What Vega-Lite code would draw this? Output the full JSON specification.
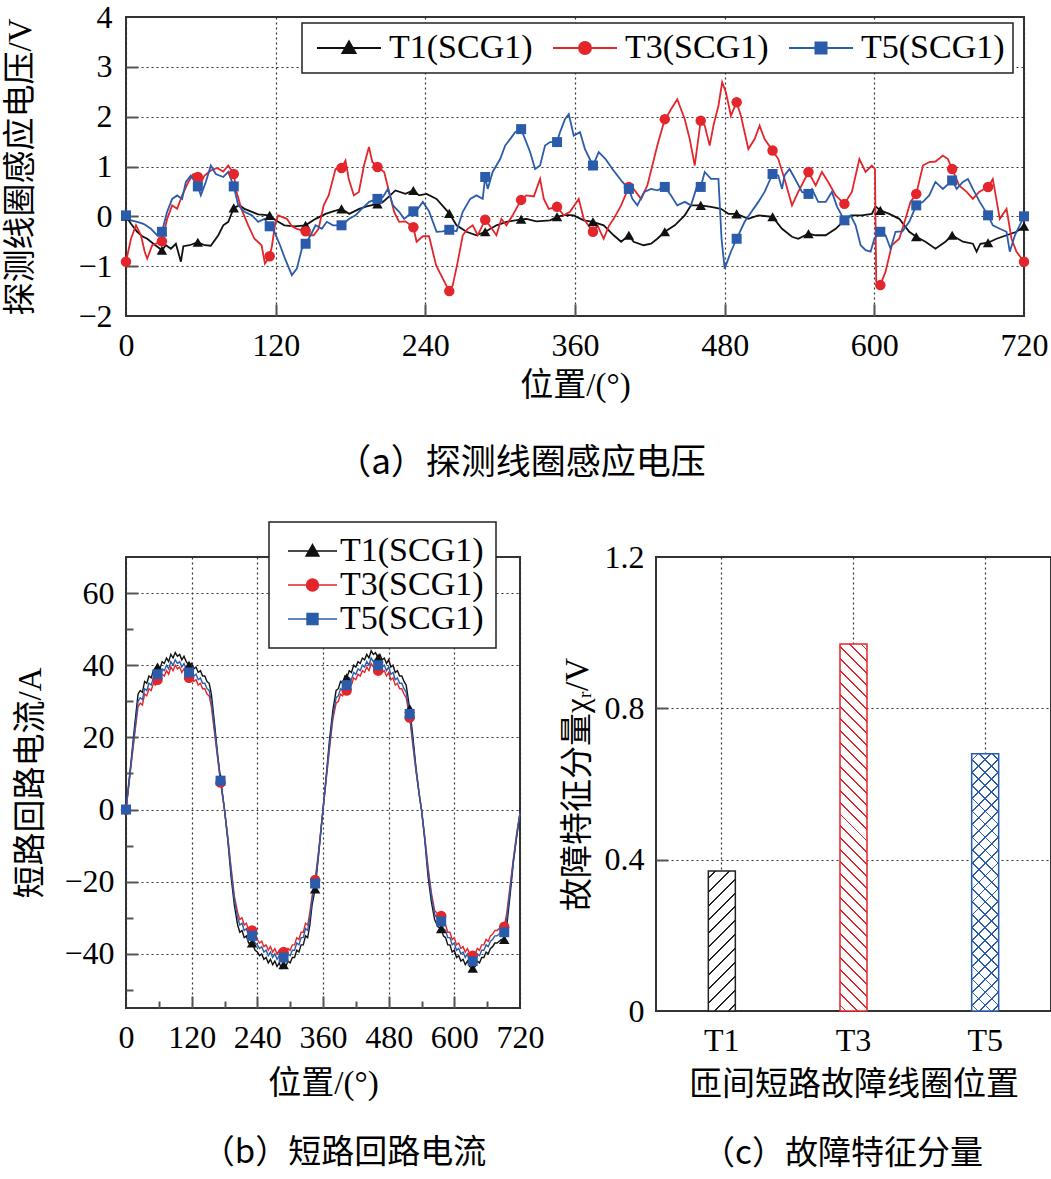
{
  "$schema": "https://vega.github.io/schema/vega-lite/v6.json",
  "background": "white",
  "padding": {"left": 3, "top": 0, "right": 0, "bottom": 0},
  "spacing": 39,
  "resolve": {"scale": {"color": "independent"}, "legend": {"color": "independent"}},
  "config": {
    "view": {"stroke": "#333", "strokeWidth": 2},
    "axis": {"domain": false, "labelFont": "Liberation Serif", "labelFontSize": 32, "labelColor": "#000", "titleFont": "Liberation Serif, Noto Sans CJK SC", "titleFontSize": 33, "titleFontWeight": "normal", "titleColor": "#000", "gridColor": "#333", "gridDash": [2, 3], "gridWidth": 1.2, "gridOpacity": 1, "tickColor": "#555", "tickWidth": 2},
    "title": {"font": "Noto Sans CJK SC", "fontSize": 35, "fontWeight": "normal", "color": "#000", "anchor": "middle"},
    "legend": {"labelFont": "Liberation Serif", "labelFontSize": 34, "labelColor": "#000", "strokeColor": "#222", "fillColor": "#fff"}
  },
  "datasets": {
    "a": [
      {"s":"T1","x":0,"y":0,"m":1},{"s":"T1","x":4,"y":-0.15},{"s":"T1","x":9,"y":-0.31},{"s":"T1","x":13,"y":-0.4},{"s":"T1","x":17,"y":-0.45},{"s":"T1","x":22,"y":-0.55},{"s":"T1","x":28.8,"y":-0.68,"m":1},{"s":"T1","x":32,"y":-0.58},{"s":"T1","x":36,"y":-0.65},{"s":"T1","x":40,"y":-0.55},{"s":"T1","x":44,"y":-0.91},{"s":"T1","x":46,"y":-0.6},{"s":"T1","x":51,"y":-0.58},{"s":"T1","x":57.6,"y":-0.52,"m":1},{"s":"T1","x":63,"y":-0.58},{"s":"T1","x":68,"y":-0.59},{"s":"T1","x":74,"y":-0.38},{"s":"T1","x":78,"y":-0.18},{"s":"T1","x":82,"y":-0.11},{"s":"T1","x":86.4,"y":0.17,"m":1},{"s":"T1","x":91,"y":0.22},{"s":"T1","x":95,"y":0.15},{"s":"T1","x":101,"y":0.09},{"s":"T1","x":106,"y":0.04},{"s":"T1","x":115.2,"y":0.02,"m":1},{"s":"T1","x":120,"y":-0.08},{"s":"T1","x":127,"y":-0.18},{"s":"T1","x":135,"y":-0.2},{"s":"T1","x":144,"y":-0.18,"m":1},{"s":"T1","x":152,"y":-0.05},{"s":"T1","x":160,"y":0.05},{"s":"T1","x":166,"y":0.1},{"s":"T1","x":172.8,"y":0.15,"m":1},{"s":"T1","x":179,"y":0.05},{"s":"T1","x":187,"y":0.15},{"s":"T1","x":193,"y":0.2},{"s":"T1","x":201.6,"y":0.25,"m":1},{"s":"T1","x":206,"y":0.29},{"s":"T1","x":211,"y":0.4},{"s":"T1","x":216,"y":0.52},{"s":"T1","x":224,"y":0.45},{"s":"T1","x":230.4,"y":0.52,"m":1},{"s":"T1","x":235,"y":0.42},{"s":"T1","x":241,"y":0.45},{"s":"T1","x":249,"y":0.35},{"s":"T1","x":259.2,"y":0.06,"m":1},{"s":"T1","x":265,"y":-0.18},{"s":"T1","x":273,"y":-0.31},{"s":"T1","x":281,"y":-0.38},{"s":"T1","x":288,"y":-0.31,"m":1},{"s":"T1","x":297,"y":-0.18},{"s":"T1","x":305,"y":-0.11},{"s":"T1","x":316.8,"y":-0.06,"m":1},{"s":"T1","x":321,"y":-0.05},{"s":"T1","x":329,"y":-0.1},{"s":"T1","x":340,"y":-0.08},{"s":"T1","x":345.6,"y":-0.01,"m":1},{"s":"T1","x":352,"y":0.03},{"s":"T1","x":359,"y":0.02},{"s":"T1","x":367,"y":-0.08},{"s":"T1","x":374.4,"y":-0.11,"m":1},{"s":"T1","x":383,"y":-0.18},{"s":"T1","x":391,"y":-0.38},{"s":"T1","x":397,"y":-0.51},{"s":"T1","x":403.2,"y":-0.38,"m":1},{"s":"T1","x":407,"y":-0.51},{"s":"T1","x":415,"y":-0.58},{"s":"T1","x":421,"y":-0.55},{"s":"T1","x":426,"y":-0.45},{"s":"T1","x":432,"y":-0.31,"m":1},{"s":"T1","x":440,"y":-0.18},{"s":"T1","x":448,"y":0.02},{"s":"T1","x":453,"y":0.22},{"s":"T1","x":460.8,"y":0.22,"m":1},{"s":"T1","x":469,"y":0.19},{"s":"T1","x":477,"y":0.15},{"s":"T1","x":483,"y":0.05},{"s":"T1","x":489.6,"y":0.05,"m":1},{"s":"T1","x":499,"y":-0.05},{"s":"T1","x":507,"y":0.02},{"s":"T1","x":518.4,"y":-0.01,"m":1},{"s":"T1","x":526,"y":-0.25},{"s":"T1","x":534,"y":-0.41},{"s":"T1","x":539,"y":-0.45},{"s":"T1","x":547.2,"y":-0.35,"m":1},{"s":"T1","x":553,"y":-0.38},{"s":"T1","x":561,"y":-0.38},{"s":"T1","x":569,"y":-0.25},{"s":"T1","x":576,"y":-0.08,"m":1},{"s":"T1","x":582,"y":0.02},{"s":"T1","x":590,"y":0.02},{"s":"T1","x":598,"y":0.05},{"s":"T1","x":601,"y":0.2},{"s":"T1","x":604.8,"y":0.12,"m":1},{"s":"T1","x":612,"y":0.05},{"s":"T1","x":620,"y":-0.05},{"s":"T1","x":628,"y":-0.31},{"s":"T1","x":633.6,"y":-0.41,"m":1},{"s":"T1","x":641,"y":-0.51},{"s":"T1","x":649,"y":-0.65},{"s":"T1","x":657,"y":-0.51},{"s":"T1","x":662.4,"y":-0.38,"m":1},{"s":"T1","x":671,"y":-0.51},{"s":"T1","x":679,"y":-0.55},{"s":"T1","x":682,"y":-0.71},{"s":"T1","x":685,"y":-0.55},{"s":"T1","x":691.2,"y":-0.53,"m":1},{"s":"T1","x":698,"y":-0.45},{"s":"T1","x":706,"y":-0.38},{"s":"T1","x":714,"y":-0.31},{"s":"T1","x":720,"y":-0.2,"m":1},
      {"s":"T3","x":0,"y":-0.91,"m":1},{"s":"T3","x":4,"y":-0.45},{"s":"T3","x":8,"y":-0.18},{"s":"T3","x":12,"y":-0.38},{"s":"T3","x":15,"y":-0.71},{"s":"T3","x":17,"y":-0.85},{"s":"T3","x":21,"y":-0.58},{"s":"T3","x":28.8,"y":-0.5,"m":1},{"s":"T3","x":33,"y":-0.05},{"s":"T3","x":37,"y":0.22},{"s":"T3","x":41,"y":0.15},{"s":"T3","x":45,"y":0.42},{"s":"T3","x":50,"y":0.69},{"s":"T3","x":54,"y":0.85},{"s":"T3","x":57.6,"y":0.79,"m":1},{"s":"T3","x":59,"y":0.62},{"s":"T3","x":63,"y":0.82},{"s":"T3","x":68,"y":0.92},{"s":"T3","x":73,"y":0.97},{"s":"T3","x":78,"y":0.9},{"s":"T3","x":82,"y":1.02},{"s":"T3","x":86.4,"y":0.85,"m":1},{"s":"T3","x":88.5,"y":0.5},{"s":"T3","x":92.5,"y":0.15},{"s":"T3","x":98,"y":-0.18},{"s":"T3","x":103,"y":-0.45},{"s":"T3","x":108.7,"y":-0.58},{"s":"T3","x":111.4,"y":-0.95},{"s":"T3","x":115.2,"y":-0.8,"m":1},{"s":"T3","x":117,"y":-0.6},{"s":"T3","x":119.4,"y":-0.18},{"s":"T3","x":122,"y":0.02},{"s":"T3","x":129,"y":-0.05},{"s":"T3","x":133,"y":-0.2},{"s":"T3","x":137,"y":-0.25},{"s":"T3","x":144,"y":-0.3,"m":1},{"s":"T3","x":146.4,"y":-0.38},{"s":"T3","x":150.4,"y":-0.38},{"s":"T3","x":154.4,"y":-0.25},{"s":"T3","x":158.5,"y":0.22},{"s":"T3","x":162.5,"y":0.42},{"s":"T3","x":168,"y":0.95},{"s":"T3","x":172.8,"y":0.97,"m":1},{"s":"T3","x":176,"y":1.12},{"s":"T3","x":178.6,"y":0.75},{"s":"T3","x":182.7,"y":0.42},{"s":"T3","x":186.7,"y":0.49},{"s":"T3","x":190.8,"y":1.02},{"s":"T3","x":194.8,"y":1.39},{"s":"T3","x":197.5,"y":1.09},{"s":"T3","x":201.6,"y":0.99,"m":1},{"s":"T3","x":207,"y":0.89},{"s":"T3","x":211,"y":0.49},{"s":"T3","x":215,"y":0.09},{"s":"T3","x":219,"y":-0.11},{"s":"T3","x":224,"y":-0.1},{"s":"T3","x":230.4,"y":-0.22,"m":1},{"s":"T3","x":233,"y":-0.51},{"s":"T3","x":238,"y":-0.4},{"s":"T3","x":243,"y":-0.4},{"s":"T3","x":248.6,"y":-0.98},{"s":"T3","x":254,"y":-1.25},{"s":"T3","x":259.2,"y":-1.5,"m":1},{"s":"T3","x":262,"y":-1.38},{"s":"T3","x":266,"y":-0.91},{"s":"T3","x":270,"y":-0.38},{"s":"T3","x":274,"y":-0.25},{"s":"T3","x":278,"y":-0.18},{"s":"T3","x":282,"y":-0.38},{"s":"T3","x":288,"y":-0.07,"m":1},{"s":"T3","x":292,"y":-0.2},{"s":"T3","x":297,"y":-0.38},{"s":"T3","x":301,"y":-0.05},{"s":"T3","x":305,"y":-0.18},{"s":"T3","x":310,"y":0.02},{"s":"T3","x":316.8,"y":0.33,"m":1},{"s":"T3","x":321,"y":0.42},{"s":"T3","x":327,"y":0.4},{"s":"T3","x":332,"y":0.75},{"s":"T3","x":335,"y":0.35},{"s":"T3","x":339,"y":0.15},{"s":"T3","x":345.6,"y":0.19,"m":1},{"s":"T3","x":351,"y":0.02},{"s":"T3","x":356,"y":0.09},{"s":"T3","x":363,"y":0.35},{"s":"T3","x":367,"y":-0.05},{"s":"T3","x":374.4,"y":-0.31,"m":1},{"s":"T3","x":378,"y":-0.18},{"s":"T3","x":383,"y":-0.45},{"s":"T3","x":387,"y":-0.2},{"s":"T3","x":391,"y":-0.05},{"s":"T3","x":397,"y":0.22},{"s":"T3","x":403.2,"y":0.59,"m":1},{"s":"T3","x":407,"y":0.55},{"s":"T3","x":413,"y":0.35},{"s":"T3","x":418,"y":0.62},{"s":"T3","x":422,"y":1.02},{"s":"T3","x":426,"y":1.42},{"s":"T3","x":432,"y":1.95,"m":1},{"s":"T3","x":434,"y":2.02},{"s":"T3","x":437,"y":2.15},{"s":"T3","x":442,"y":2.35},{"s":"T3","x":448,"y":1.95},{"s":"T3","x":452,"y":1.55},{"s":"T3","x":456,"y":1.02},{"s":"T3","x":460.8,"y":1.92,"m":1},{"s":"T3","x":464,"y":1.82},{"s":"T3","x":468,"y":1.42},{"s":"T3","x":471,"y":1.82},{"s":"T3","x":475,"y":2.22},{"s":"T3","x":478,"y":2.69},{"s":"T3","x":481,"y":2.49},{"s":"T3","x":485,"y":2.02},{"s":"T3","x":489.6,"y":2.29,"m":1},{"s":"T3","x":493,"y":2.02},{"s":"T3","x":499,"y":1.35},{"s":"T3","x":504,"y":1.55},{"s":"T3","x":508,"y":1.82},{"s":"T3","x":512,"y":1.55},{"s":"T3","x":518.4,"y":1.32,"m":1},{"s":"T3","x":523,"y":1.15},{"s":"T3","x":528,"y":0.75},{"s":"T3","x":534,"y":0.22},{"s":"T3","x":539,"y":0.49},{"s":"T3","x":547.2,"y":0.89,"m":1},{"s":"T3","x":553,"y":0.62},{"s":"T3","x":558,"y":0.89},{"s":"T3","x":563,"y":0.69},{"s":"T3","x":569,"y":0.42},{"s":"T3","x":576,"y":0.25,"m":1},{"s":"T3","x":582,"y":0.49},{"s":"T3","x":588,"y":1.15},{"s":"T3","x":593,"y":0.89},{"s":"T3","x":598,"y":1.02},{"s":"T3","x":600.5,"y":0.95},{"s":"T3","x":601.5,"y":-1.31},{"s":"T3","x":604.8,"y":-1.38,"m":1},{"s":"T3","x":609,"y":-1.11},{"s":"T3","x":614,"y":-0.58},{"s":"T3","x":620,"y":-0.45},{"s":"T3","x":625,"y":-0.05},{"s":"T3","x":629,"y":0.29},{"s":"T3","x":633.6,"y":0.45,"m":1},{"s":"T3","x":639,"y":1.02},{"s":"T3","x":644,"y":1.09},{"s":"T3","x":649,"y":1.1},{"s":"T3","x":655,"y":1.22},{"s":"T3","x":659,"y":1.15},{"s":"T3","x":662.4,"y":0.95,"m":1},{"s":"T3","x":668,"y":0.62},{"s":"T3","x":674,"y":0.49},{"s":"T3","x":679,"y":0.35},{"s":"T3","x":684,"y":0.49},{"s":"T3","x":691.2,"y":0.59,"m":1},{"s":"T3","x":695,"y":0.75},{"s":"T3","x":700.6,"y":-0.05},{"s":"T3","x":706,"y":0.15},{"s":"T3","x":710,"y":-0.45},{"s":"T3","x":714,"y":-0.71},{"s":"T3","x":720,"y":-0.91,"m":1},
      {"s":"T5","x":0,"y":0.02,"m":1},{"s":"T5","x":4,"y":-0.08},{"s":"T5","x":9,"y":-0.11},{"s":"T5","x":14,"y":-0.15},{"s":"T5","x":20,"y":-0.25},{"s":"T5","x":25,"y":-0.38},{"s":"T5","x":28.8,"y":-0.31,"m":1},{"s":"T5","x":33,"y":0.09},{"s":"T5","x":37,"y":0.35},{"s":"T5","x":41,"y":0.42},{"s":"T5","x":45,"y":0.35},{"s":"T5","x":48,"y":0.69},{"s":"T5","x":52,"y":0.82},{"s":"T5","x":57.6,"y":0.6,"m":1},{"s":"T5","x":60,"y":0.42},{"s":"T5","x":64,"y":0.69},{"s":"T5","x":68,"y":1.02},{"s":"T5","x":72,"y":0.85},{"s":"T5","x":78,"y":0.79},{"s":"T5","x":82,"y":0.89},{"s":"T5","x":86.4,"y":0.6,"m":1},{"s":"T5","x":90,"y":0.22},{"s":"T5","x":95,"y":0.09},{"s":"T5","x":101,"y":0.02},{"s":"T5","x":106,"y":-0.11},{"s":"T5","x":111,"y":-0.05},{"s":"T5","x":115.2,"y":-0.2,"m":1},{"s":"T5","x":119,"y":-0.31},{"s":"T5","x":123.5,"y":-0.58},{"s":"T5","x":127.5,"y":-0.85},{"s":"T5","x":133,"y":-1.18},{"s":"T5","x":137,"y":-1.05},{"s":"T5","x":141,"y":-0.65},{"s":"T5","x":144,"y":-0.55,"m":1},{"s":"T5","x":148,"y":-0.38},{"s":"T5","x":152,"y":-0.18},{"s":"T5","x":157,"y":-0.25},{"s":"T5","x":161,"y":-0.11},{"s":"T5","x":166,"y":-0.18},{"s":"T5","x":172.8,"y":-0.18,"m":1},{"s":"T5","x":179,"y":-0.05},{"s":"T5","x":184,"y":0.02},{"s":"T5","x":189,"y":0.15},{"s":"T5","x":195,"y":0.29},{"s":"T5","x":201.6,"y":0.35,"m":1},{"s":"T5","x":206,"y":0.39},{"s":"T5","x":210,"y":0.55},{"s":"T5","x":214,"y":0.22},{"s":"T5","x":219,"y":0.09},{"s":"T5","x":223,"y":-0.05},{"s":"T5","x":230.4,"y":0.1,"m":1},{"s":"T5","x":234,"y":0.15},{"s":"T5","x":238,"y":0.29},{"s":"T5","x":243,"y":0.1},{"s":"T5","x":249,"y":-0.31},{"s":"T5","x":254,"y":-0.3},{"s":"T5","x":259.2,"y":-0.27,"m":1},{"s":"T5","x":265,"y":-0.3},{"s":"T5","x":270,"y":0.09},{"s":"T5","x":276,"y":0.35},{"s":"T5","x":281,"y":0.42},{"s":"T5","x":286,"y":0.35},{"s":"T5","x":288,"y":0.79,"m":1},{"s":"T5","x":290,"y":0.55},{"s":"T5","x":294,"y":0.89},{"s":"T5","x":300,"y":1.15},{"s":"T5","x":304,"y":1.42},{"s":"T5","x":308,"y":1.55},{"s":"T5","x":312,"y":1.69},{"s":"T5","x":316.8,"y":1.75,"m":1},{"s":"T5","x":320,"y":1.55},{"s":"T5","x":324,"y":1.29},{"s":"T5","x":328,"y":0.95},{"s":"T5","x":332,"y":1.02},{"s":"T5","x":336,"y":1.42},{"s":"T5","x":340,"y":1.49},{"s":"T5","x":345.6,"y":1.49,"m":1},{"s":"T5","x":348,"y":1.69},{"s":"T5","x":352,"y":1.95},{"s":"T5","x":355,"y":2.05},{"s":"T5","x":359,"y":1.62},{"s":"T5","x":364,"y":1.69},{"s":"T5","x":368,"y":1.35},{"s":"T5","x":374.4,"y":1.02,"m":1},{"s":"T5","x":379,"y":1.29},{"s":"T5","x":384.5,"y":1.15},{"s":"T5","x":390,"y":0.95},{"s":"T5","x":394,"y":0.82},{"s":"T5","x":398,"y":0.69},{"s":"T5","x":403.2,"y":0.55,"m":1},{"s":"T5","x":406,"y":0.35},{"s":"T5","x":410,"y":0.22},{"s":"T5","x":415.5,"y":0.49},{"s":"T5","x":421,"y":0.55},{"s":"T5","x":426,"y":0.52},{"s":"T5","x":432,"y":0.59,"m":1},{"s":"T5","x":437,"y":0.42},{"s":"T5","x":442,"y":0.22},{"s":"T5","x":448,"y":0.29},{"s":"T5","x":453,"y":0.22},{"s":"T5","x":458,"y":0.62},{"s":"T5","x":460.8,"y":0.59,"m":1},{"s":"T5","x":464,"y":0.89},{"s":"T5","x":469,"y":0.75},{"s":"T5","x":475,"y":0.75},{"s":"T5","x":477.5,"y":-0.45},{"s":"T5","x":480,"y":-1.05},{"s":"T5","x":485,"y":-0.71},{"s":"T5","x":489.6,"y":-0.45,"m":1},{"s":"T5","x":496,"y":-0.11},{"s":"T5","x":501.5,"y":0.09},{"s":"T5","x":507,"y":0.29},{"s":"T5","x":512,"y":0.49},{"s":"T5","x":518.4,"y":0.85,"m":1},{"s":"T5","x":523,"y":0.82},{"s":"T5","x":526,"y":0.55},{"s":"T5","x":528,"y":0.82},{"s":"T5","x":532,"y":0.95},{"s":"T5","x":536.5,"y":0.75},{"s":"T5","x":542,"y":0.49},{"s":"T5","x":547.2,"y":0.45,"m":1},{"s":"T5","x":550,"y":0.55},{"s":"T5","x":555,"y":0.29},{"s":"T5","x":561,"y":0.29},{"s":"T5","x":566,"y":0.49},{"s":"T5","x":570,"y":0.2},{"s":"T5","x":576,"y":-0.08,"m":1},{"s":"T5","x":581,"y":0.02},{"s":"T5","x":585,"y":-0.18},{"s":"T5","x":589,"y":-0.58},{"s":"T5","x":593,"y":-0.68},{"s":"T5","x":597,"y":-0.71},{"s":"T5","x":600,"y":-0.45},{"s":"T5","x":604.8,"y":-0.31,"m":1},{"s":"T5","x":609,"y":-0.38},{"s":"T5","x":613,"y":-0.65},{"s":"T5","x":617,"y":-0.31},{"s":"T5","x":622.5,"y":-0.3},{"s":"T5","x":628,"y":-0.11},{"s":"T5","x":633.6,"y":0.22,"m":1},{"s":"T5","x":639,"y":0.29},{"s":"T5","x":644,"y":0.42},{"s":"T5","x":649,"y":0.69},{"s":"T5","x":655,"y":0.55},{"s":"T5","x":662.4,"y":0.72,"m":1},{"s":"T5","x":666,"y":0.55},{"s":"T5","x":671,"y":0.69},{"s":"T5","x":675,"y":0.75},{"s":"T5","x":679,"y":0.55},{"s":"T5","x":684.5,"y":0.29},{"s":"T5","x":691.2,"y":0.02,"m":1},{"s":"T5","x":695,"y":-0.18},{"s":"T5","x":700.6,"y":-0.25},{"s":"T5","x":706,"y":-0.31},{"s":"T5","x":708.6,"y":-0.71},{"s":"T5","x":712.7,"y":-0.38},{"s":"T5","x":720,"y":0,"m":1}
    ],
    "b": [
      {"s":"T1","x":0,"y":0,"m":1},{"s":"T1","x":8,"y":11.5},{"s":"T1","x":16,"y":23.5},{"s":"T1","x":22,"y":32},{"s":"T1","x":26,"y":33},{"s":"T1","x":30,"y":32.5},{"s":"T1","x":34,"y":35.5},{"s":"T1","x":38,"y":35},{"s":"T1","x":42,"y":37},{"s":"T1","x":46,"y":36.5},{"s":"T1","x":50,"y":38.5},{"s":"T1","x":54,"y":38},{"s":"T1","x":57.6,"y":39.5,"m":1},{"s":"T1","x":62,"y":39},{"s":"T1","x":66,"y":41},{"s":"T1","x":70,"y":40.5},{"s":"T1","x":74,"y":42},{"s":"T1","x":78,"y":41},{"s":"T1","x":82,"y":43},{"s":"T1","x":86,"y":42},{"s":"T1","x":90,"y":43.5},{"s":"T1","x":94,"y":42.5},{"s":"T1","x":98,"y":43},{"s":"T1","x":102,"y":41.5},{"s":"T1","x":106,"y":42.5},{"s":"T1","x":110,"y":41},{"s":"T1","x":115.2,"y":40,"m":1},{"s":"T1","x":120,"y":40.5},{"s":"T1","x":124,"y":39},{"s":"T1","x":128,"y":39.5},{"s":"T1","x":132,"y":38},{"s":"T1","x":136,"y":38.5},{"s":"T1","x":140,"y":37},{"s":"T1","x":144,"y":37},{"s":"T1","x":148,"y":35.5},{"s":"T1","x":152,"y":35},{"s":"T1","x":156,"y":32},{"s":"T1","x":162,"y":23.5},{"s":"T1","x":168,"y":14.5},{"s":"T1","x":172.8,"y":8.5,"m":1},{"s":"T1","x":180,"y":0},
      {"s":"T1","x":186,"y":-8.5},{"s":"T1","x":192,"y":-18.5},{"s":"T1","x":198,"y":-26.5},{"s":"T1","x":204,"y":-32},{"s":"T1","x":208,"y":-34},{"s":"T1","x":212,"y":-33.5},{"s":"T1","x":216,"y":-35.5},{"s":"T1","x":220,"y":-35},{"s":"T1","x":224,"y":-37},{"s":"T1","x":230.4,"y":-37,"m":1},{"s":"T1","x":236,"y":-39},{"s":"T1","x":240,"y":-39.5},{"s":"T1","x":244,"y":-40.5},{"s":"T1","x":248,"y":-40},{"s":"T1","x":252,"y":-41.5},{"s":"T1","x":256,"y":-41},{"s":"T1","x":260,"y":-42.5},{"s":"T1","x":264,"y":-41.5},{"s":"T1","x":268,"y":-43},{"s":"T1","x":272,"y":-42},{"s":"T1","x":276,"y":-43.5},{"s":"T1","x":280,"y":-42.5},{"s":"T1","x":284,"y":-44},{"s":"T1","x":288,"y":-43,"m":1},{"s":"T1","x":292,"y":-43.5},{"s":"T1","x":296,"y":-42},{"s":"T1","x":300,"y":-42.5},{"s":"T1","x":304,"y":-41},{"s":"T1","x":308,"y":-41},{"s":"T1","x":312,"y":-39},{"s":"T1","x":316,"y":-39.5},{"s":"T1","x":320,"y":-37.5},{"s":"T1","x":324,"y":-37.5},{"s":"T1","x":328,"y":-35},{"s":"T1","x":332,"y":-35.5},{"s":"T1","x":336,"y":-32},{"s":"T1","x":340,"y":-26.5},{"s":"T1","x":345.6,"y":-22,"m":1},{"s":"T1","x":352,"y":-12.5},{"s":"T1","x":360,"y":0},
      {"s":"T1","x":366,"y":9.5},{"s":"T1","x":372,"y":19.5},{"s":"T1","x":378,"y":27.5},{"s":"T1","x":384,"y":33},{"s":"T1","x":388,"y":33.5},{"s":"T1","x":392,"y":35.5},{"s":"T1","x":396,"y":35},{"s":"T1","x":400,"y":37},{"s":"T1","x":403.2,"y":36.5,"m":1},{"s":"T1","x":408,"y":38.5},{"s":"T1","x":412,"y":38},{"s":"T1","x":416,"y":40},{"s":"T1","x":420,"y":39.5},{"s":"T1","x":424,"y":41},{"s":"T1","x":428,"y":40.5},{"s":"T1","x":432,"y":42},{"s":"T1","x":436,"y":41.5},{"s":"T1","x":440,"y":43},{"s":"T1","x":444,"y":42},{"s":"T1","x":448,"y":44},{"s":"T1","x":452,"y":43},{"s":"T1","x":456,"y":43.5},{"s":"T1","x":460.8,"y":42,"m":1},{"s":"T1","x":464,"y":43},{"s":"T1","x":468,"y":41.5},{"s":"T1","x":472,"y":42},{"s":"T1","x":476,"y":40.5},{"s":"T1","x":480,"y":41.5},{"s":"T1","x":484,"y":39.5},{"s":"T1","x":488,"y":40},{"s":"T1","x":492,"y":38},{"s":"T1","x":496,"y":38.5},{"s":"T1","x":500,"y":37},{"s":"T1","x":504,"y":37},{"s":"T1","x":508,"y":35.5},{"s":"T1","x":512,"y":34.5},{"s":"T1","x":518.4,"y":28,"m":1},{"s":"T1","x":524,"y":20.5},{"s":"T1","x":530,"y":11.5},{"s":"T1","x":536,"y":4},{"s":"T1","x":540,"y":0},
      {"s":"T1","x":546,"y":-8.5},{"s":"T1","x":552,"y":-18.5},{"s":"T1","x":558,"y":-25.5},{"s":"T1","x":564,"y":-30.5},{"s":"T1","x":570,"y":-32.5},{"s":"T1","x":576,"y":-33,"m":1},{"s":"T1","x":580,"y":-35},{"s":"T1","x":584,"y":-35.5},{"s":"T1","x":588,"y":-37.5},{"s":"T1","x":592,"y":-37.5},{"s":"T1","x":596,"y":-39.5},{"s":"T1","x":600,"y":-39},{"s":"T1","x":604,"y":-41},{"s":"T1","x":608,"y":-40.5},{"s":"T1","x":612,"y":-42},{"s":"T1","x":616,"y":-41.5},{"s":"T1","x":620,"y":-43},{"s":"T1","x":624,"y":-42},{"s":"T1","x":628,"y":-43.5},{"s":"T1","x":633.6,"y":-44,"m":1},{"s":"T1","x":638,"y":-43.5},{"s":"T1","x":642,"y":-42},{"s":"T1","x":646,"y":-42.5},{"s":"T1","x":650,"y":-41},{"s":"T1","x":654,"y":-41},{"s":"T1","x":658,"y":-39.5},{"s":"T1","x":662,"y":-40},{"s":"T1","x":666,"y":-38.5},{"s":"T1","x":670,"y":-38},{"s":"T1","x":674,"y":-37},{"s":"T1","x":678,"y":-37},{"s":"T1","x":682,"y":-36.5},{"s":"T1","x":686,"y":-36},{"s":"T1","x":691.2,"y":-36,"m":1},{"s":"T1","x":696,"y":-32},{"s":"T1","x":702,"y":-23.5},{"s":"T1","x":708,"y":-14.5},{"s":"T1","x":714,"y":-7.5},{"s":"T1","x":720,"y":-1},
      {"s":"T3","x":0,"y":0,"m":1},{"s":"T3","x":8,"y":10.5},{"s":"T3","x":16,"y":21},{"s":"T3","x":22,"y":28.5},{"s":"T3","x":26,"y":29.5},{"s":"T3","x":30,"y":29},{"s":"T3","x":34,"y":32},{"s":"T3","x":38,"y":31.5},{"s":"T3","x":42,"y":33.5},{"s":"T3","x":46,"y":33},{"s":"T3","x":50,"y":35},{"s":"T3","x":54,"y":34.5},{"s":"T3","x":57.6,"y":36,"m":1},{"s":"T3","x":62,"y":35.5},{"s":"T3","x":66,"y":37.5},{"s":"T3","x":70,"y":37},{"s":"T3","x":74,"y":38.5},{"s":"T3","x":78,"y":37.5},{"s":"T3","x":82,"y":39.5},{"s":"T3","x":86,"y":38.5},{"s":"T3","x":90,"y":40},{"s":"T3","x":94,"y":39},{"s":"T3","x":98,"y":39.5},{"s":"T3","x":102,"y":38},{"s":"T3","x":106,"y":39},{"s":"T3","x":110,"y":37.5},{"s":"T3","x":115.2,"y":36.5,"m":1},{"s":"T3","x":120,"y":37},{"s":"T3","x":124,"y":35.5},{"s":"T3","x":128,"y":36},{"s":"T3","x":132,"y":34.5},{"s":"T3","x":136,"y":35},{"s":"T3","x":140,"y":33.5},{"s":"T3","x":144,"y":33.5},{"s":"T3","x":148,"y":32},{"s":"T3","x":152,"y":31.5},{"s":"T3","x":156,"y":28.5},{"s":"T3","x":162,"y":21},{"s":"T3","x":168,"y":13.5},{"s":"T3","x":172.8,"y":7.5,"m":1},{"s":"T3","x":180,"y":0},
      {"s":"T3","x":186,"y":-7.5},{"s":"T3","x":192,"y":-16},{"s":"T3","x":198,"y":-24},{"s":"T3","x":204,"y":-28.5},{"s":"T3","x":208,"y":-30.5},{"s":"T3","x":212,"y":-30},{"s":"T3","x":216,"y":-32},{"s":"T3","x":220,"y":-31.5},{"s":"T3","x":224,"y":-33.5},{"s":"T3","x":230.4,"y":-33.5,"m":1},{"s":"T3","x":236,"y":-35.5},{"s":"T3","x":240,"y":-36},{"s":"T3","x":244,"y":-37},{"s":"T3","x":248,"y":-36.5},{"s":"T3","x":252,"y":-38},{"s":"T3","x":256,"y":-37.5},{"s":"T3","x":260,"y":-39},{"s":"T3","x":264,"y":-38},{"s":"T3","x":268,"y":-39.5},{"s":"T3","x":272,"y":-38.5},{"s":"T3","x":276,"y":-40},{"s":"T3","x":280,"y":-39},{"s":"T3","x":284,"y":-40.5},{"s":"T3","x":288,"y":-39.5,"m":1},{"s":"T3","x":292,"y":-40},{"s":"T3","x":296,"y":-38.5},{"s":"T3","x":300,"y":-39},{"s":"T3","x":304,"y":-37.5},{"s":"T3","x":308,"y":-37.5},{"s":"T3","x":312,"y":-35.5},{"s":"T3","x":316,"y":-36},{"s":"T3","x":320,"y":-34},{"s":"T3","x":324,"y":-34},{"s":"T3","x":328,"y":-31.5},{"s":"T3","x":332,"y":-32},{"s":"T3","x":336,"y":-28.5},{"s":"T3","x":340,"y":-24},{"s":"T3","x":345.6,"y":-19.5,"m":1},{"s":"T3","x":352,"y":-11.5},{"s":"T3","x":360,"y":0},
      {"s":"T3","x":366,"y":8.5},{"s":"T3","x":372,"y":17},{"s":"T3","x":378,"y":25},{"s":"T3","x":384,"y":29.5},{"s":"T3","x":388,"y":30},{"s":"T3","x":392,"y":32},{"s":"T3","x":396,"y":31.5},{"s":"T3","x":400,"y":33.5},{"s":"T3","x":403.2,"y":33,"m":1},{"s":"T3","x":408,"y":35},{"s":"T3","x":412,"y":34.5},{"s":"T3","x":416,"y":36.5},{"s":"T3","x":420,"y":36},{"s":"T3","x":424,"y":37.5},{"s":"T3","x":428,"y":37},{"s":"T3","x":432,"y":38.5},{"s":"T3","x":436,"y":38},{"s":"T3","x":440,"y":39.5},{"s":"T3","x":444,"y":38.5},{"s":"T3","x":448,"y":40.5},{"s":"T3","x":452,"y":39.5},{"s":"T3","x":456,"y":40},{"s":"T3","x":460.8,"y":38.5,"m":1},{"s":"T3","x":464,"y":39.5},{"s":"T3","x":468,"y":38},{"s":"T3","x":472,"y":38.5},{"s":"T3","x":476,"y":37},{"s":"T3","x":480,"y":38},{"s":"T3","x":484,"y":36},{"s":"T3","x":488,"y":36.5},{"s":"T3","x":492,"y":34.5},{"s":"T3","x":496,"y":35},{"s":"T3","x":500,"y":33.5},{"s":"T3","x":504,"y":33.5},{"s":"T3","x":508,"y":32},{"s":"T3","x":512,"y":31},{"s":"T3","x":518.4,"y":25.5,"m":1},{"s":"T3","x":524,"y":18},{"s":"T3","x":530,"y":10.5},{"s":"T3","x":536,"y":4},{"s":"T3","x":540,"y":0},
      {"s":"T3","x":546,"y":-7.5},{"s":"T3","x":552,"y":-16},{"s":"T3","x":558,"y":-23},{"s":"T3","x":564,"y":-28},{"s":"T3","x":570,"y":-29},{"s":"T3","x":576,"y":-29.5,"m":1},{"s":"T3","x":580,"y":-31.5},{"s":"T3","x":584,"y":-32},{"s":"T3","x":588,"y":-34},{"s":"T3","x":592,"y":-34},{"s":"T3","x":596,"y":-36},{"s":"T3","x":600,"y":-35.5},{"s":"T3","x":604,"y":-37.5},{"s":"T3","x":608,"y":-37},{"s":"T3","x":612,"y":-38.5},{"s":"T3","x":616,"y":-38},{"s":"T3","x":620,"y":-39.5},{"s":"T3","x":624,"y":-38.5},{"s":"T3","x":628,"y":-40},{"s":"T3","x":633.6,"y":-40.5,"m":1},{"s":"T3","x":638,"y":-40},{"s":"T3","x":642,"y":-38.5},{"s":"T3","x":646,"y":-39},{"s":"T3","x":650,"y":-37.5},{"s":"T3","x":654,"y":-37.5},{"s":"T3","x":658,"y":-36},{"s":"T3","x":662,"y":-36.5},{"s":"T3","x":666,"y":-35},{"s":"T3","x":670,"y":-34.5},{"s":"T3","x":674,"y":-33.5},{"s":"T3","x":678,"y":-33.5},{"s":"T3","x":682,"y":-33},{"s":"T3","x":686,"y":-32.5},{"s":"T3","x":691.2,"y":-32.5,"m":1},{"s":"T3","x":696,"y":-28.5},{"s":"T3","x":702,"y":-21},{"s":"T3","x":708,"y":-13.5},{"s":"T3","x":714,"y":-6.5},{"s":"T3","x":720,"y":-1},
      {"s":"T5","x":0,"y":0,"m":1},{"s":"T5","x":8,"y":11},{"s":"T5","x":16,"y":22},{"s":"T5","x":22,"y":30},{"s":"T5","x":26,"y":31},{"s":"T5","x":30,"y":30.5},{"s":"T5","x":34,"y":33.5},{"s":"T5","x":38,"y":33},{"s":"T5","x":42,"y":35},{"s":"T5","x":46,"y":34.5},{"s":"T5","x":50,"y":36.5},{"s":"T5","x":54,"y":36},{"s":"T5","x":57.6,"y":37.5,"m":1},{"s":"T5","x":62,"y":37},{"s":"T5","x":66,"y":39},{"s":"T5","x":70,"y":38.5},{"s":"T5","x":74,"y":40},{"s":"T5","x":78,"y":39},{"s":"T5","x":82,"y":41},{"s":"T5","x":86,"y":40},{"s":"T5","x":90,"y":41.5},{"s":"T5","x":94,"y":40.5},{"s":"T5","x":98,"y":41},{"s":"T5","x":102,"y":39.5},{"s":"T5","x":106,"y":40.5},{"s":"T5","x":110,"y":39},{"s":"T5","x":115.2,"y":38,"m":1},{"s":"T5","x":120,"y":38.5},{"s":"T5","x":124,"y":37},{"s":"T5","x":128,"y":37.5},{"s":"T5","x":132,"y":36},{"s":"T5","x":136,"y":36.5},{"s":"T5","x":140,"y":35},{"s":"T5","x":144,"y":35},{"s":"T5","x":148,"y":33.5},{"s":"T5","x":152,"y":33},{"s":"T5","x":156,"y":30},{"s":"T5","x":162,"y":22},{"s":"T5","x":168,"y":14},{"s":"T5","x":172.8,"y":8,"m":1},{"s":"T5","x":180,"y":0},
      {"s":"T5","x":186,"y":-8},{"s":"T5","x":192,"y":-17},{"s":"T5","x":198,"y":-25},{"s":"T5","x":204,"y":-30},{"s":"T5","x":208,"y":-32},{"s":"T5","x":212,"y":-31.5},{"s":"T5","x":216,"y":-33.5},{"s":"T5","x":220,"y":-33},{"s":"T5","x":224,"y":-35},{"s":"T5","x":230.4,"y":-35,"m":1},{"s":"T5","x":236,"y":-37},{"s":"T5","x":240,"y":-37.5},{"s":"T5","x":244,"y":-38.5},{"s":"T5","x":248,"y":-38},{"s":"T5","x":252,"y":-39.5},{"s":"T5","x":256,"y":-39},{"s":"T5","x":260,"y":-40.5},{"s":"T5","x":264,"y":-39.5},{"s":"T5","x":268,"y":-41},{"s":"T5","x":272,"y":-40},{"s":"T5","x":276,"y":-41.5},{"s":"T5","x":280,"y":-40.5},{"s":"T5","x":284,"y":-42},{"s":"T5","x":288,"y":-41,"m":1},{"s":"T5","x":292,"y":-41.5},{"s":"T5","x":296,"y":-40},{"s":"T5","x":300,"y":-40.5},{"s":"T5","x":304,"y":-39},{"s":"T5","x":308,"y":-39},{"s":"T5","x":312,"y":-37},{"s":"T5","x":316,"y":-37.5},{"s":"T5","x":320,"y":-35.5},{"s":"T5","x":324,"y":-35.5},{"s":"T5","x":328,"y":-33},{"s":"T5","x":332,"y":-33.5},{"s":"T5","x":336,"y":-30},{"s":"T5","x":340,"y":-25},{"s":"T5","x":345.6,"y":-20.5,"m":1},{"s":"T5","x":352,"y":-12},{"s":"T5","x":360,"y":0},
      {"s":"T5","x":366,"y":9},{"s":"T5","x":372,"y":18},{"s":"T5","x":378,"y":26},{"s":"T5","x":384,"y":31},{"s":"T5","x":388,"y":31.5},{"s":"T5","x":392,"y":33.5},{"s":"T5","x":396,"y":33},{"s":"T5","x":400,"y":35},{"s":"T5","x":403.2,"y":34.5,"m":1},{"s":"T5","x":408,"y":36.5},{"s":"T5","x":412,"y":36},{"s":"T5","x":416,"y":38},{"s":"T5","x":420,"y":37.5},{"s":"T5","x":424,"y":39},{"s":"T5","x":428,"y":38.5},{"s":"T5","x":432,"y":40},{"s":"T5","x":436,"y":39.5},{"s":"T5","x":440,"y":41},{"s":"T5","x":444,"y":40},{"s":"T5","x":448,"y":42},{"s":"T5","x":452,"y":41},{"s":"T5","x":456,"y":41.5},{"s":"T5","x":460.8,"y":40,"m":1},{"s":"T5","x":464,"y":41},{"s":"T5","x":468,"y":39.5},{"s":"T5","x":472,"y":40},{"s":"T5","x":476,"y":38.5},{"s":"T5","x":480,"y":39.5},{"s":"T5","x":484,"y":37.5},{"s":"T5","x":488,"y":38},{"s":"T5","x":492,"y":36},{"s":"T5","x":496,"y":36.5},{"s":"T5","x":500,"y":35},{"s":"T5","x":504,"y":35},{"s":"T5","x":508,"y":33.5},{"s":"T5","x":512,"y":32.5},{"s":"T5","x":518.4,"y":26.5,"m":1},{"s":"T5","x":524,"y":19},{"s":"T5","x":530,"y":11},{"s":"T5","x":536,"y":4},{"s":"T5","x":540,"y":0},
      {"s":"T5","x":546,"y":-8},{"s":"T5","x":552,"y":-17},{"s":"T5","x":558,"y":-24},{"s":"T5","x":564,"y":-29},{"s":"T5","x":570,"y":-30.5},{"s":"T5","x":576,"y":-31,"m":1},{"s":"T5","x":580,"y":-33},{"s":"T5","x":584,"y":-33.5},{"s":"T5","x":588,"y":-35.5},{"s":"T5","x":592,"y":-35.5},{"s":"T5","x":596,"y":-37.5},{"s":"T5","x":600,"y":-37},{"s":"T5","x":604,"y":-39},{"s":"T5","x":608,"y":-38.5},{"s":"T5","x":612,"y":-40},{"s":"T5","x":616,"y":-39.5},{"s":"T5","x":620,"y":-41},{"s":"T5","x":624,"y":-40},{"s":"T5","x":628,"y":-41.5},{"s":"T5","x":633.6,"y":-42,"m":1},{"s":"T5","x":638,"y":-41.5},{"s":"T5","x":642,"y":-40},{"s":"T5","x":646,"y":-40.5},{"s":"T5","x":650,"y":-39},{"s":"T5","x":654,"y":-39},{"s":"T5","x":658,"y":-37.5},{"s":"T5","x":662,"y":-38},{"s":"T5","x":666,"y":-36.5},{"s":"T5","x":670,"y":-36},{"s":"T5","x":674,"y":-35},{"s":"T5","x":678,"y":-35},{"s":"T5","x":682,"y":-34.5},{"s":"T5","x":686,"y":-34},{"s":"T5","x":691.2,"y":-34,"m":1},{"s":"T5","x":696,"y":-30},{"s":"T5","x":702,"y":-22},{"s":"T5","x":708,"y":-14},{"s":"T5","x":714,"y":-7},{"s":"T5","x":720,"y":-1}
    ],
    "c": [
      {"c":"T1","v":0.37},{"c":"T3","v":0.97},{"c":"T5","v":0.68}
    ]
  },
  "vconcat": [
    {
      "width": 898,
      "height": 299,
      "data": {"name": "a"},
      "title": {"text": "（a）探测线圈感应电压", "orient": "bottom", "offset": 44, "dx": -54},
      "encoding": {
        "color": {
          "field": "s", "type": "nominal",
          "scale": {"domain": ["T1", "T3", "T5"], "range": ["#111111", "#e3262b", "#2b5cab"]},
          "legend": {
            "title": null, "orient": "none", "legendX": 176, "legendY": 6, "direction": "horizontal",
            "labelExpr": "datum.label + '(SCG1)'", "labelFontSize": 34, "labelBaseline": "middle",
            "symbolSize": 400, "labelOffset": 45, "columnPadding": 13, "padding": 8,
            "encode": {
              "symbols": {"update": {
                "shape": {"signal": "datum.value === 'T1' ? 'M-1,0H5.4M2.2,-0.65L2.85,0.5L1.55,0.5Z' : datum.value === 'T3' ? 'M-1,0H5.4M1.6,0A0.6,0.6,0,1,0,2.8,0A0.6,0.6,0,1,0,1.6,0Z' : 'M-1,0H5.4M1.65,-0.55H2.75V0.55H1.65Z'"},
                "fill": {"signal": "datum.value === 'T1' ? '#111111' : datum.value === 'T3' ? '#e3262b' : '#2b5cab'"},
                "stroke": {"signal": "datum.value === 'T1' ? '#111111' : datum.value === 'T3' ? '#e3262b' : '#2b5cab'"},
                "strokeWidth": {"value": 2},
                "opacity": {"value": 1}, "fillOpacity": {"value": 1}, "strokeOpacity": {"value": 1}
              }},
              "legend": {"update": {"strokeWidth": {"value": 1.5}}}
            }
          }
        }
      },
      "layer": [
        {
          "mark": {"type": "line", "strokeWidth": 1.8},
          "encoding": {
            "x": {"field": "x", "type": "quantitative", "scale": {"domain": [0, 720], "nice": false, "zero": false},
                  "axis": {"orient": "bottom", "values": [0, 120, 240, 360, 480, 600, 720], "title": "位置/(°)", "ticks": false, "grid": true, "labelPadding": 14, "titlePadding": 8, "labelFlush": false, "labelOverlap": false}},
            "y": {"field": "y", "type": "quantitative", "scale": {"domain": [-2, 4], "nice": false, "zero": false},
                  "axis": {"orient": "left", "values": [-2, -1, 0, 1, 2, 3, 4], "title": "探测线圈感应电压/V", "ticks": false, "grid": true, "labelPadding": 14, "titlePadding": 40, "labelOverlap": false}}
          }
        },
        {
          "transform": [{"filter": "datum.s === 'T1' && datum.m === 1"}],
          "mark": {"type": "point", "shape": "triangle-up", "filled": true, "size": 110, "opacity": 1},
          "encoding": {
            "x": {"field": "x", "type": "quantitative", "scale": {"domain": [0, 720], "nice": false, "zero": false},
                  "axis": {"orient": "bottom", "values": [120, 240, 360, 480, 600], "labels": false, "grid": false, "tickSize": 12, "offset": -12, "title": null}},
            "y": {"field": "y", "type": "quantitative", "scale": {"domain": [-2, 4], "nice": false, "zero": false},
                  "axis": {"orient": "left", "values": [-1, 0, 1, 2, 3], "labels": false, "grid": false, "tickSize": 12, "offset": -12, "title": null}}
          }
        },
        {
          "transform": [{"filter": "datum.s === 'T3' && datum.m === 1"}],
          "mark": {"type": "point", "shape": "circle", "filled": true, "size": 110, "opacity": 1},
          "encoding": {
            "x": {"field": "x", "type": "quantitative", "axis": null},
            "y": {"field": "y", "type": "quantitative", "axis": null}
          }
        },
        {
          "transform": [{"filter": "datum.s === 'T5' && datum.m === 1"}],
          "mark": {"type": "point", "shape": "square", "filled": true, "size": 100, "opacity": 1},
          "encoding": {
            "x": {"field": "x", "type": "quantitative", "axis": null},
            "y": {"field": "y", "type": "quantitative", "axis": null}
          }
        }
      ],
      "resolve": {"axis": {"x": "independent", "y": "independent"}}
    },
    {
      "spacing": 15,
      "hconcat": [
        {
          "width": 394,
          "height": 451,
          "data": {"name": "b"},
          "title": {"text": "（b）短路回路电流", "orient": "bottom", "offset": 37, "dx": 21, "fontSize": 33},
          "encoding": {
            "color": {
              "field": "s", "type": "nominal",
              "scale": {"domain": ["T1", "T3", "T5"], "range": ["#111111", "#e3262b", "#2b5cab"]},
              "legend": {
                "title": null, "orient": "none", "legendX": 143, "legendY": -35, "direction": "vertical",
                "labelExpr": "datum.label + '(SCG1)'", "labelFontSize": 34, "labelBaseline": "middle",
                "symbolSize": 400, "labelOffset": 25, "rowPadding": 0, "padding": 12,
                "encode": {
                  "symbols": {"update": {
                    "shape": {"signal": "datum.value === 'T1' ? 'M-1,0H3.9M1.45,-0.65L2.1,0.5L0.8,0.5Z' : datum.value === 'T3' ? 'M-1,0H3.9M0.85,0A0.6,0.6,0,1,0,2.05,0A0.6,0.6,0,1,0,0.85,0Z' : 'M-1,0H3.9M0.9,-0.55H2V0.55H0.9Z'"},
                    "fill": {"signal": "datum.value === 'T1' ? '#111111' : datum.value === 'T3' ? '#e3262b' : '#2b5cab'"},
                    "stroke": {"signal": "datum.value === 'T1' ? '#111111' : datum.value === 'T3' ? '#e3262b' : '#2b5cab'"},
                    "strokeWidth": {"value": 1.4},
                    "opacity": {"value": 1}, "fillOpacity": {"value": 1}, "strokeOpacity": {"value": 1}
                  }},
                  "legend": {"update": {"strokeWidth": {"value": 1.5}}}
                }
              }
            }
          },
          "layer": [
            {
              "mark": {"type": "line", "strokeWidth": 1.4},
              "encoding": {
                "x": {"field": "x", "type": "quantitative", "scale": {"domain": [0, 720], "nice": false, "zero": false},
                      "axis": {"orient": "bottom", "values": [0, 120, 240, 360, 480, 600, 720], "title": "位置/(°)", "ticks": false, "grid": true, "labelPadding": 14, "titlePadding": 14, "labelFlush": false, "labelOverlap": false}},
                "y": {"field": "y", "type": "quantitative", "scale": {"domain": [-55, 70], "nice": false, "zero": false},
                      "axis": {"orient": "left", "values": [-40, -20, 0, 20, 40, 60], "title": "短路回路电流/A", "ticks": false, "grid": true, "labelPadding": 12, "titlePadding": 16, "labelOverlap": false}}
              }
            },
            {
              "transform": [{"filter": "datum.s === 'T1' && datum.m === 1"}],
              "mark": {"type": "point", "shape": "triangle-up", "filled": true, "size": 110, "opacity": 1},
              "encoding": {
                "x": {"field": "x", "type": "quantitative", "scale": {"domain": [0, 720], "nice": false, "zero": false},
                      "axis": {"orient": "bottom", "values": [120, 240, 360, 480, 600], "labels": false, "grid": false, "tickSize": 12, "offset": -12, "title": null}},
                "y": {"field": "y", "type": "quantitative", "scale": {"domain": [-55, 70], "nice": false, "zero": false},
                      "axis": {"orient": "left", "values": [-40, -20, 0, 20, 40, 60], "labels": false, "grid": false, "tickSize": 12, "offset": -12, "title": null}}
              }
            },
            {
              "transform": [{"filter": "datum.s === 'T3' && datum.m === 1"}],
              "mark": {"type": "point", "shape": "circle", "filled": true, "size": 110, "opacity": 1},
              "encoding": {
                "x": {"field": "x", "type": "quantitative",
                      "axis": {"orient": "bottom", "values": [60, 180, 300, 420, 540, 660], "labels": false, "grid": false, "tickSize": 7, "offset": -7, "title": null}},
                "y": {"field": "y", "type": "quantitative",
                      "axis": {"orient": "left", "values": [-50, -30, -10, 10, 30, 50], "labels": false, "grid": false, "tickSize": 7, "offset": -7, "title": null}}
              }
            },
            {
              "transform": [{"filter": "datum.s === 'T5' && datum.m === 1"}],
              "mark": {"type": "point", "shape": "square", "filled": true, "size": 100, "opacity": 1},
              "encoding": {
                "x": {"field": "x", "type": "quantitative", "axis": null},
                "y": {"field": "y", "type": "quantitative", "axis": null}
              }
            }
          ],
          "resolve": {"axis": {"x": "independent", "y": "independent"}}
        },
        {
          "width": 395,
          "height": 454,
          "data": {"name": "c"},
          "title": {"text": "（c）故障特征分量", "orient": "bottom", "offset": 37, "dx": -11, "fontSize": 33},
          "layer": [
            {
              "transform": [{"filter": "datum.c === 'T1'"}],
              "mark": {"type": "bar", "width": 27, "stroke": "#222222", "strokeWidth": 1.5,
                "fill": {"gradient": "linear", "x1": 0, "y1": 0, "x2": 0.2218, "y2": 1.1501, "stops": [
                  {"offset": 0, "color": "#ffffff"},
                  {"offset": 0.0357, "color": "#ffffff"}, {"offset": 0.0357, "color": "#222222"}, {"offset": 0.0477, "color": "#222222"}, {"offset": 0.0477, "color": "#ffffff"},
                  {"offset": 0.119, "color": "#ffffff"}, {"offset": 0.119, "color": "#222222"}, {"offset": 0.131, "color": "#222222"}, {"offset": 0.131, "color": "#ffffff"},
                  {"offset": 0.2023, "color": "#ffffff"}, {"offset": 0.2023, "color": "#222222"}, {"offset": 0.2143, "color": "#222222"}, {"offset": 0.2143, "color": "#ffffff"},
                  {"offset": 0.2857, "color": "#ffffff"}, {"offset": 0.2857, "color": "#222222"}, {"offset": 0.2977, "color": "#222222"}, {"offset": 0.2977, "color": "#ffffff"},
                  {"offset": 0.369, "color": "#ffffff"}, {"offset": 0.369, "color": "#222222"}, {"offset": 0.381, "color": "#222222"}, {"offset": 0.381, "color": "#ffffff"},
                  {"offset": 0.4523, "color": "#ffffff"}, {"offset": 0.4523, "color": "#222222"}, {"offset": 0.4643, "color": "#222222"}, {"offset": 0.4643, "color": "#ffffff"},
                  {"offset": 0.5357, "color": "#ffffff"}, {"offset": 0.5357, "color": "#222222"}, {"offset": 0.5477, "color": "#222222"}, {"offset": 0.5477, "color": "#ffffff"},
                  {"offset": 0.619, "color": "#ffffff"}, {"offset": 0.619, "color": "#222222"}, {"offset": 0.631, "color": "#222222"}, {"offset": 0.631, "color": "#ffffff"},
                  {"offset": 0.7023, "color": "#ffffff"}, {"offset": 0.7023, "color": "#222222"}, {"offset": 0.7143, "color": "#222222"}, {"offset": 0.7143, "color": "#ffffff"},
                  {"offset": 0.7857, "color": "#ffffff"}, {"offset": 0.7857, "color": "#222222"}, {"offset": 0.7977, "color": "#222222"}, {"offset": 0.7977, "color": "#ffffff"},
                  {"offset": 0.869, "color": "#ffffff"}, {"offset": 0.869, "color": "#222222"}, {"offset": 0.881, "color": "#222222"}, {"offset": 0.881, "color": "#ffffff"},
                  {"offset": 0.9523, "color": "#ffffff"}, {"offset": 0.9523, "color": "#222222"}, {"offset": 0.9643, "color": "#222222"}, {"offset": 0.9643, "color": "#ffffff"},
                  {"offset": 1, "color": "#ffffff"}
                ]}},
              "encoding": {
                "x": {"field": "c", "type": "nominal", "scale": {"domain": ["T1", "T3", "T5"], "paddingInner": 0, "paddingOuter": 0},
                      "axis": {"orient": "bottom", "title": "匝间短路故障线圈位置", "labelAngle": 0, "ticks": false, "grid": true, "bandPosition": 0.5, "labelPadding": 14, "titlePadding": 12}},
                "y": {"field": "v", "type": "quantitative", "scale": {"domain": [0, 1.2], "nice": false, "zero": true},
                      "axis": {"orient": "left", "values": [0, 0.4, 0.8, 1.2], "format": "~g", "title": "故障特征分量χᵣ/V", "ticks": false, "grid": true, "labelPadding": 12, "titlePadding": 10, "labelOverlap": false}}
              }
            },
            {
              "transform": [{"filter": "datum.c === 'T3'"}],
              "mark": {"type": "bar", "width": 27, "stroke": "#e3262b", "strokeWidth": 1.5,
                "fill": {"gradient": "linear", "x1": 0, "y1": 1, "x2": 0.07856, "y2": -0.0678, "stops": [
                  {"offset": 0, "color": "#ffffff"},
                  {"offset": 0.0127, "color": "#ffffff"}, {"offset": 0.0127, "color": "#e3262b"}, {"offset": 0.0177, "color": "#e3262b"}, {"offset": 0.0177, "color": "#ffffff"},
                  {"offset": 0.043, "color": "#ffffff"}, {"offset": 0.043, "color": "#e3262b"}, {"offset": 0.048, "color": "#e3262b"}, {"offset": 0.048, "color": "#ffffff"},
                  {"offset": 0.0733, "color": "#ffffff"}, {"offset": 0.0733, "color": "#e3262b"}, {"offset": 0.0783, "color": "#e3262b"}, {"offset": 0.0783, "color": "#ffffff"},
                  {"offset": 0.1036, "color": "#ffffff"}, {"offset": 0.1036, "color": "#e3262b"}, {"offset": 0.1086, "color": "#e3262b"}, {"offset": 0.1086, "color": "#ffffff"},
                  {"offset": 0.1339, "color": "#ffffff"}, {"offset": 0.1339, "color": "#e3262b"}, {"offset": 0.1389, "color": "#e3262b"}, {"offset": 0.1389, "color": "#ffffff"},
                  {"offset": 0.1642, "color": "#ffffff"}, {"offset": 0.1642, "color": "#e3262b"}, {"offset": 0.1692, "color": "#e3262b"}, {"offset": 0.1692, "color": "#ffffff"},
                  {"offset": 0.1945, "color": "#ffffff"}, {"offset": 0.1945, "color": "#e3262b"}, {"offset": 0.1995, "color": "#e3262b"}, {"offset": 0.1995, "color": "#ffffff"},
                  {"offset": 0.2248, "color": "#ffffff"}, {"offset": 0.2248, "color": "#e3262b"}, {"offset": 0.2298, "color": "#e3262b"}, {"offset": 0.2298, "color": "#ffffff"},
                  {"offset": 0.2551, "color": "#ffffff"}, {"offset": 0.2551, "color": "#e3262b"}, {"offset": 0.2601, "color": "#e3262b"}, {"offset": 0.2601, "color": "#ffffff"},
                  {"offset": 0.2854, "color": "#ffffff"}, {"offset": 0.2854, "color": "#e3262b"}, {"offset": 0.2904, "color": "#e3262b"}, {"offset": 0.2904, "color": "#ffffff"},
                  {"offset": 0.3157, "color": "#ffffff"}, {"offset": 0.3157, "color": "#e3262b"}, {"offset": 0.3207, "color": "#e3262b"}, {"offset": 0.3207, "color": "#ffffff"},
                  {"offset": 0.346, "color": "#ffffff"}, {"offset": 0.346, "color": "#e3262b"}, {"offset": 0.351, "color": "#e3262b"}, {"offset": 0.351, "color": "#ffffff"},
                  {"offset": 0.3763, "color": "#ffffff"}, {"offset": 0.3763, "color": "#e3262b"}, {"offset": 0.3813, "color": "#e3262b"}, {"offset": 0.3813, "color": "#ffffff"},
                  {"offset": 0.4066, "color": "#ffffff"}, {"offset": 0.4066, "color": "#e3262b"}, {"offset": 0.4116, "color": "#e3262b"}, {"offset": 0.4116, "color": "#ffffff"},
                  {"offset": 0.4369, "color": "#ffffff"}, {"offset": 0.4369, "color": "#e3262b"}, {"offset": 0.4419, "color": "#e3262b"}, {"offset": 0.4419, "color": "#ffffff"},
                  {"offset": 0.4672, "color": "#ffffff"}, {"offset": 0.4672, "color": "#e3262b"}, {"offset": 0.4722, "color": "#e3262b"}, {"offset": 0.4722, "color": "#ffffff"},
                  {"offset": 0.4975, "color": "#ffffff"}, {"offset": 0.4975, "color": "#e3262b"}, {"offset": 0.5025, "color": "#e3262b"}, {"offset": 0.5025, "color": "#ffffff"},
                  {"offset": 0.5278, "color": "#ffffff"}, {"offset": 0.5278, "color": "#e3262b"}, {"offset": 0.5328, "color": "#e3262b"}, {"offset": 0.5328, "color": "#ffffff"},
                  {"offset": 0.5581, "color": "#ffffff"}, {"offset": 0.5581, "color": "#e3262b"}, {"offset": 0.5631, "color": "#e3262b"}, {"offset": 0.5631, "color": "#ffffff"},
                  {"offset": 0.5884, "color": "#ffffff"}, {"offset": 0.5884, "color": "#e3262b"}, {"offset": 0.5934, "color": "#e3262b"}, {"offset": 0.5934, "color": "#ffffff"},
                  {"offset": 0.6187, "color": "#ffffff"}, {"offset": 0.6187, "color": "#e3262b"}, {"offset": 0.6237, "color": "#e3262b"}, {"offset": 0.6237, "color": "#ffffff"},
                  {"offset": 0.649, "color": "#ffffff"}, {"offset": 0.649, "color": "#e3262b"}, {"offset": 0.654, "color": "#e3262b"}, {"offset": 0.654, "color": "#ffffff"},
                  {"offset": 0.6793, "color": "#ffffff"}, {"offset": 0.6793, "color": "#e3262b"}, {"offset": 0.6843, "color": "#e3262b"}, {"offset": 0.6843, "color": "#ffffff"},
                  {"offset": 0.7096, "color": "#ffffff"}, {"offset": 0.7096, "color": "#e3262b"}, {"offset": 0.7146, "color": "#e3262b"}, {"offset": 0.7146, "color": "#ffffff"},
                  {"offset": 0.7399, "color": "#ffffff"}, {"offset": 0.7399, "color": "#e3262b"}, {"offset": 0.7449, "color": "#e3262b"}, {"offset": 0.7449, "color": "#ffffff"},
                  {"offset": 0.7702, "color": "#ffffff"}, {"offset": 0.7702, "color": "#e3262b"}, {"offset": 0.7752, "color": "#e3262b"}, {"offset": 0.7752, "color": "#ffffff"},
                  {"offset": 0.8005, "color": "#ffffff"}, {"offset": 0.8005, "color": "#e3262b"}, {"offset": 0.8055, "color": "#e3262b"}, {"offset": 0.8055, "color": "#ffffff"},
                  {"offset": 0.8308, "color": "#ffffff"}, {"offset": 0.8308, "color": "#e3262b"}, {"offset": 0.8358, "color": "#e3262b"}, {"offset": 0.8358, "color": "#ffffff"},
                  {"offset": 0.8611, "color": "#ffffff"}, {"offset": 0.8611, "color": "#e3262b"}, {"offset": 0.8661, "color": "#e3262b"}, {"offset": 0.8661, "color": "#ffffff"},
                  {"offset": 0.8914, "color": "#ffffff"}, {"offset": 0.8914, "color": "#e3262b"}, {"offset": 0.8964, "color": "#e3262b"}, {"offset": 0.8964, "color": "#ffffff"},
                  {"offset": 0.9217, "color": "#ffffff"}, {"offset": 0.9217, "color": "#e3262b"}, {"offset": 0.9267, "color": "#e3262b"}, {"offset": 0.9267, "color": "#ffffff"},
                  {"offset": 0.952, "color": "#ffffff"}, {"offset": 0.952, "color": "#e3262b"}, {"offset": 0.957, "color": "#e3262b"}, {"offset": 0.957, "color": "#ffffff"},
                  {"offset": 0.9823, "color": "#ffffff"}, {"offset": 0.9823, "color": "#e3262b"}, {"offset": 0.9873, "color": "#e3262b"}, {"offset": 0.9873, "color": "#ffffff"},
                  {"offset": 1, "color": "#ffffff"}
                ]}},
              "encoding": {
                "x": {"field": "c", "type": "nominal", "axis": null},
                "y": {"field": "v", "type": "quantitative",
                      "axis": {"orient": "left", "values": [0.4, 0.8], "labels": false, "grid": false, "tickSize": 12, "offset": -12, "title": null}}
              }
            },
            {
              "transform": [{"filter": "datum.c === 'T5'"}],
              "mark": {"type": "bar", "width": 27, "strokeWidth": 0,
                "fill": {"gradient": "linear", "x1": 0, "y1": 0, "x2": 0.1147, "y2": 1.093, "stops": [
                  {"offset": 0, "color": "#ffffff"},
                  {"offset": 0.0197, "color": "#ffffff"}, {"offset": 0.0197, "color": "#2b5cab"}, {"offset": 0.0257, "color": "#2b5cab"}, {"offset": 0.0257, "color": "#ffffff"},
                  {"offset": 0.0652, "color": "#ffffff"}, {"offset": 0.0652, "color": "#2b5cab"}, {"offset": 0.0712, "color": "#2b5cab"}, {"offset": 0.0712, "color": "#ffffff"},
                  {"offset": 0.1106, "color": "#ffffff"}, {"offset": 0.1106, "color": "#2b5cab"}, {"offset": 0.1166, "color": "#2b5cab"}, {"offset": 0.1166, "color": "#ffffff"},
                  {"offset": 0.1561, "color": "#ffffff"}, {"offset": 0.1561, "color": "#2b5cab"}, {"offset": 0.1621, "color": "#2b5cab"}, {"offset": 0.1621, "color": "#ffffff"},
                  {"offset": 0.2015, "color": "#ffffff"}, {"offset": 0.2015, "color": "#2b5cab"}, {"offset": 0.2075, "color": "#2b5cab"}, {"offset": 0.2075, "color": "#ffffff"},
                  {"offset": 0.247, "color": "#ffffff"}, {"offset": 0.247, "color": "#2b5cab"}, {"offset": 0.253, "color": "#2b5cab"}, {"offset": 0.253, "color": "#ffffff"},
                  {"offset": 0.2925, "color": "#ffffff"}, {"offset": 0.2925, "color": "#2b5cab"}, {"offset": 0.2985, "color": "#2b5cab"}, {"offset": 0.2985, "color": "#ffffff"},
                  {"offset": 0.3379, "color": "#ffffff"}, {"offset": 0.3379, "color": "#2b5cab"}, {"offset": 0.3439, "color": "#2b5cab"}, {"offset": 0.3439, "color": "#ffffff"},
                  {"offset": 0.3834, "color": "#ffffff"}, {"offset": 0.3834, "color": "#2b5cab"}, {"offset": 0.3894, "color": "#2b5cab"}, {"offset": 0.3894, "color": "#ffffff"},
                  {"offset": 0.4288, "color": "#ffffff"}, {"offset": 0.4288, "color": "#2b5cab"}, {"offset": 0.4348, "color": "#2b5cab"}, {"offset": 0.4348, "color": "#ffffff"},
                  {"offset": 0.4743, "color": "#ffffff"}, {"offset": 0.4743, "color": "#2b5cab"}, {"offset": 0.4803, "color": "#2b5cab"}, {"offset": 0.4803, "color": "#ffffff"},
                  {"offset": 0.5197, "color": "#ffffff"}, {"offset": 0.5197, "color": "#2b5cab"}, {"offset": 0.5257, "color": "#2b5cab"}, {"offset": 0.5257, "color": "#ffffff"},
                  {"offset": 0.5652, "color": "#ffffff"}, {"offset": 0.5652, "color": "#2b5cab"}, {"offset": 0.5712, "color": "#2b5cab"}, {"offset": 0.5712, "color": "#ffffff"},
                  {"offset": 0.6106, "color": "#ffffff"}, {"offset": 0.6106, "color": "#2b5cab"}, {"offset": 0.6166, "color": "#2b5cab"}, {"offset": 0.6166, "color": "#ffffff"},
                  {"offset": 0.6561, "color": "#ffffff"}, {"offset": 0.6561, "color": "#2b5cab"}, {"offset": 0.6621, "color": "#2b5cab"}, {"offset": 0.6621, "color": "#ffffff"},
                  {"offset": 0.7015, "color": "#ffffff"}, {"offset": 0.7015, "color": "#2b5cab"}, {"offset": 0.7075, "color": "#2b5cab"}, {"offset": 0.7075, "color": "#ffffff"},
                  {"offset": 0.747, "color": "#ffffff"}, {"offset": 0.747, "color": "#2b5cab"}, {"offset": 0.753, "color": "#2b5cab"}, {"offset": 0.753, "color": "#ffffff"},
                  {"offset": 0.7925, "color": "#ffffff"}, {"offset": 0.7925, "color": "#2b5cab"}, {"offset": 0.7985, "color": "#2b5cab"}, {"offset": 0.7985, "color": "#ffffff"},
                  {"offset": 0.8379, "color": "#ffffff"}, {"offset": 0.8379, "color": "#2b5cab"}, {"offset": 0.8439, "color": "#2b5cab"}, {"offset": 0.8439, "color": "#ffffff"},
                  {"offset": 0.8834, "color": "#ffffff"}, {"offset": 0.8834, "color": "#2b5cab"}, {"offset": 0.8894, "color": "#2b5cab"}, {"offset": 0.8894, "color": "#ffffff"},
                  {"offset": 0.9288, "color": "#ffffff"}, {"offset": 0.9288, "color": "#2b5cab"}, {"offset": 0.9348, "color": "#2b5cab"}, {"offset": 0.9348, "color": "#ffffff"},
                  {"offset": 0.9743, "color": "#ffffff"}, {"offset": 0.9743, "color": "#2b5cab"}, {"offset": 0.9803, "color": "#2b5cab"}, {"offset": 0.9803, "color": "#ffffff"},
                  {"offset": 1, "color": "#ffffff"}
                ]}},
              "encoding": {
                "x": {"field": "c", "type": "nominal", "axis": null},
                "y": {"field": "v", "type": "quantitative", "axis": null}
              }
            },
            {
              "transform": [{"filter": "datum.c === 'T5'"}],
              "mark": {"type": "bar", "width": 27, "stroke": "#2b5cab", "strokeWidth": 1.5,
                "fill": {"gradient": "linear", "x1": 0, "y1": 1, "x2": 0.1147, "y2": -0.093, "stops": [
                  {"offset": 0, "color": "rgba(255,255,255,0)"},
                  {"offset": 0.0197, "color": "rgba(255,255,255,0)"}, {"offset": 0.0197, "color": "#2b5cab"}, {"offset": 0.0257, "color": "#2b5cab"}, {"offset": 0.0257, "color": "rgba(255,255,255,0)"},
                  {"offset": 0.0652, "color": "rgba(255,255,255,0)"}, {"offset": 0.0652, "color": "#2b5cab"}, {"offset": 0.0712, "color": "#2b5cab"}, {"offset": 0.0712, "color": "rgba(255,255,255,0)"},
                  {"offset": 0.1106, "color": "rgba(255,255,255,0)"}, {"offset": 0.1106, "color": "#2b5cab"}, {"offset": 0.1166, "color": "#2b5cab"}, {"offset": 0.1166, "color": "rgba(255,255,255,0)"},
                  {"offset": 0.1561, "color": "rgba(255,255,255,0)"}, {"offset": 0.1561, "color": "#2b5cab"}, {"offset": 0.1621, "color": "#2b5cab"}, {"offset": 0.1621, "color": "rgba(255,255,255,0)"},
                  {"offset": 0.2015, "color": "rgba(255,255,255,0)"}, {"offset": 0.2015, "color": "#2b5cab"}, {"offset": 0.2075, "color": "#2b5cab"}, {"offset": 0.2075, "color": "rgba(255,255,255,0)"},
                  {"offset": 0.247, "color": "rgba(255,255,255,0)"}, {"offset": 0.247, "color": "#2b5cab"}, {"offset": 0.253, "color": "#2b5cab"}, {"offset": 0.253, "color": "rgba(255,255,255,0)"},
                  {"offset": 0.2925, "color": "rgba(255,255,255,0)"}, {"offset": 0.2925, "color": "#2b5cab"}, {"offset": 0.2985, "color": "#2b5cab"}, {"offset": 0.2985, "color": "rgba(255,255,255,0)"},
                  {"offset": 0.3379, "color": "rgba(255,255,255,0)"}, {"offset": 0.3379, "color": "#2b5cab"}, {"offset": 0.3439, "color": "#2b5cab"}, {"offset": 0.3439, "color": "rgba(255,255,255,0)"},
                  {"offset": 0.3834, "color": "rgba(255,255,255,0)"}, {"offset": 0.3834, "color": "#2b5cab"}, {"offset": 0.3894, "color": "#2b5cab"}, {"offset": 0.3894, "color": "rgba(255,255,255,0)"},
                  {"offset": 0.4288, "color": "rgba(255,255,255,0)"}, {"offset": 0.4288, "color": "#2b5cab"}, {"offset": 0.4348, "color": "#2b5cab"}, {"offset": 0.4348, "color": "rgba(255,255,255,0)"},
                  {"offset": 0.4743, "color": "rgba(255,255,255,0)"}, {"offset": 0.4743, "color": "#2b5cab"}, {"offset": 0.4803, "color": "#2b5cab"}, {"offset": 0.4803, "color": "rgba(255,255,255,0)"},
                  {"offset": 0.5197, "color": "rgba(255,255,255,0)"}, {"offset": 0.5197, "color": "#2b5cab"}, {"offset": 0.5257, "color": "#2b5cab"}, {"offset": 0.5257, "color": "rgba(255,255,255,0)"},
                  {"offset": 0.5652, "color": "rgba(255,255,255,0)"}, {"offset": 0.5652, "color": "#2b5cab"}, {"offset": 0.5712, "color": "#2b5cab"}, {"offset": 0.5712, "color": "rgba(255,255,255,0)"},
                  {"offset": 0.6106, "color": "rgba(255,255,255,0)"}, {"offset": 0.6106, "color": "#2b5cab"}, {"offset": 0.6166, "color": "#2b5cab"}, {"offset": 0.6166, "color": "rgba(255,255,255,0)"},
                  {"offset": 0.6561, "color": "rgba(255,255,255,0)"}, {"offset": 0.6561, "color": "#2b5cab"}, {"offset": 0.6621, "color": "#2b5cab"}, {"offset": 0.6621, "color": "rgba(255,255,255,0)"},
                  {"offset": 0.7015, "color": "rgba(255,255,255,0)"}, {"offset": 0.7015, "color": "#2b5cab"}, {"offset": 0.7075, "color": "#2b5cab"}, {"offset": 0.7075, "color": "rgba(255,255,255,0)"},
                  {"offset": 0.747, "color": "rgba(255,255,255,0)"}, {"offset": 0.747, "color": "#2b5cab"}, {"offset": 0.753, "color": "#2b5cab"}, {"offset": 0.753, "color": "rgba(255,255,255,0)"},
                  {"offset": 0.7925, "color": "rgba(255,255,255,0)"}, {"offset": 0.7925, "color": "#2b5cab"}, {"offset": 0.7985, "color": "#2b5cab"}, {"offset": 0.7985, "color": "rgba(255,255,255,0)"},
                  {"offset": 0.8379, "color": "rgba(255,255,255,0)"}, {"offset": 0.8379, "color": "#2b5cab"}, {"offset": 0.8439, "color": "#2b5cab"}, {"offset": 0.8439, "color": "rgba(255,255,255,0)"},
                  {"offset": 0.8834, "color": "rgba(255,255,255,0)"}, {"offset": 0.8834, "color": "#2b5cab"}, {"offset": 0.8894, "color": "#2b5cab"}, {"offset": 0.8894, "color": "rgba(255,255,255,0)"},
                  {"offset": 0.9288, "color": "rgba(255,255,255,0)"}, {"offset": 0.9288, "color": "#2b5cab"}, {"offset": 0.9348, "color": "#2b5cab"}, {"offset": 0.9348, "color": "rgba(255,255,255,0)"},
                  {"offset": 0.9743, "color": "rgba(255,255,255,0)"}, {"offset": 0.9743, "color": "#2b5cab"}, {"offset": 0.9803, "color": "#2b5cab"}, {"offset": 0.9803, "color": "rgba(255,255,255,0)"},
                  {"offset": 1, "color": "rgba(255,255,255,0)"}
                ]}},
              "encoding": {
                "x": {"field": "c", "type": "nominal", "axis": null},
                "y": {"field": "v", "type": "quantitative", "axis": null}
              }
            }
          ],
          "resolve": {"axis": {"x": "independent", "y": "independent"}}
        }
      ]
    }
  ]
}
